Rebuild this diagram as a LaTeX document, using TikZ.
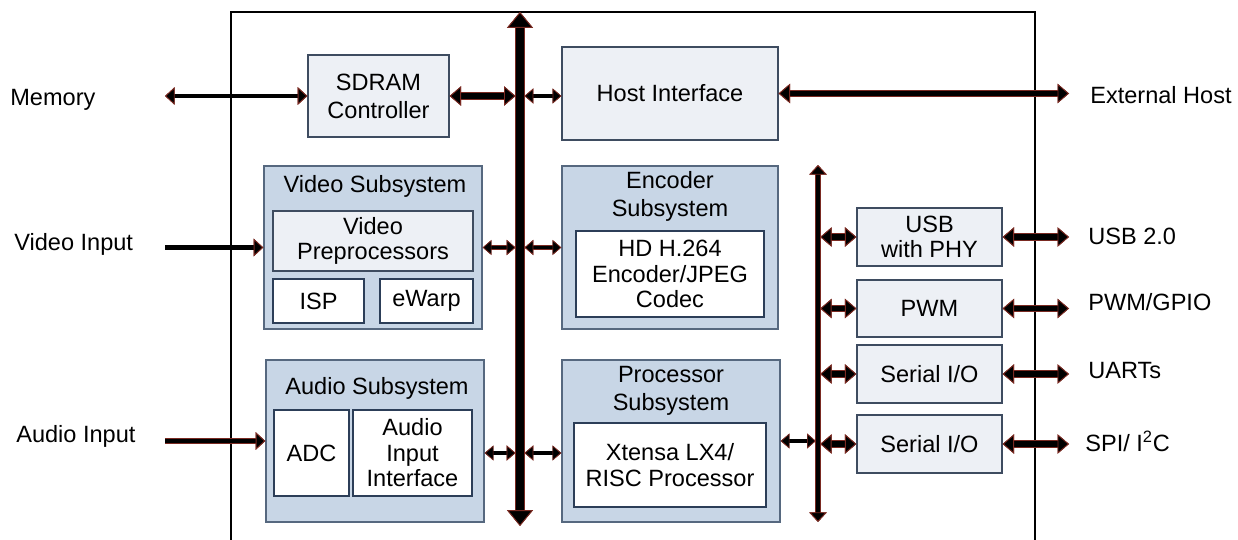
\documentclass[tikz,border=0pt]{standalone}
\usepackage{fontspec}
\setmainfont{Liberation Sans}
\usetikzlibrary{arrows.meta}
\usepackage{xcolor}

\definecolor{subfill}{HTML}{C8D6E6}
\definecolor{subdraw}{HTML}{56687F}
\definecolor{litefill}{HTML}{EDF0F5}
\definecolor{litedraw}{HTML}{3E4C60}
\definecolor{whitedraw}{HTML}{2C3E58}
\definecolor{arrowrim}{HTML}{7A2A22}

\tikzset{
  txt/.style={font=\fontsize{13.4}{14.5}\selectfont, align=center, inner sep=0pt},
  ttl/.style={font=\fontsize{13.4}{16}\selectfont, align=center, inner sep=0pt},
  subbox/.style={draw=subdraw, fill=subfill, line width=0.8pt},
  litebox/.style={txt, draw=litedraw, fill=litefill, line width=0.7pt},
  whitebox/.style={txt, draw=whitedraw, fill=white, line width=0.7pt},
  bustip/.tip={Triangle[width=14.7pt,length=9pt,fill=black,color=arrowrim,line width=0.5pt]},
  sidetip/.tip={Triangle[width=10pt,length=5.5pt,fill=black,color=arrowrim,line width=0.5pt]},
  fattip/.tip={Triangle[width=11pt,length=6.5pt,fill=black,color=arrowrim,line width=0.5pt]},
  smalltip/.tip={Triangle[width=8.5pt,length=5pt,fill=black,color=arrowrim,line width=0.4pt]},
  mainbus/.style={line width=5.1pt, preaction={draw=arrowrim, line width=6pt}, bustip-bustip},
  sidebus/.style={line width=2.8pt, preaction={draw=arrowrim, line width=3.6pt}, sidetip-sidetip},
  fatlink/.style={line width=3.2pt, preaction={draw=arrowrim, line width=4pt}, fattip-fattip},
  thinlink/.style={line width=1.8pt, preaction={draw=arrowrim, line width=2.5pt}, smalltip-smalltip},
  memlink/.style={line width=2pt, preaction={draw=arrowrim, line width=2.7pt}, sidetip-sidetip},
  inlink/.style={line width=2.6pt, preaction={draw=arrowrim, line width=3.3pt}, -sidetip},
}

\begin{document}
\begin{tikzpicture}[x=0.02cm, y=-0.02cm]
\useasboundingbox (0,0) rectangle (1238,540);

% Chip outline
\draw[line width=1.4pt] (231,540) |- (1035,12) -- (1035,540);

% Bus ends and outside ends
\coordinate (bustop) at (520,12);
\coordinate (busbot) at (520,526);
\coordinate (busL) at (515.5,0);
\coordinate (busR) at (524.5,0);
\coordinate (sbtop) at (818,165);
\coordinate (sbbot) at (818,522);
\coordinate (sbL) at (815.8,0);
\coordinate (sbR) at (820.2,0);
\coordinate (xin) at (165,0);
\coordinate (xout) at (1069,0);

% Top row
\node[litebox, minimum width=2.82cm, minimum height=1.64cm, font=\fontsize{13.4}{16}\selectfont] (sdram) at (378.5,96) {SDRAM\\Controller};
\node[litebox, minimum width=4.32cm, minimum height=1.86cm] (host) at (670,93.5) {Host Interface};

% Video Subsystem
\node[subbox, minimum width=4.36cm, minimum height=3.26cm] (vidsub) at (373,247.5) {};
\node[ttl] (vidttl) at (375,186) {Video Subsystem};
\node[litebox, minimum width=4.0cm, minimum height=1.2cm] (vidpre) at (373,241) {Video\\Preprocessors};
\node[whitebox, minimum width=1.82cm, minimum height=0.88cm] (isp) at (318.5,301) {ISP};
\node[whitebox, minimum width=1.86cm, minimum height=0.88cm] (ewarp) at (426.5,301) {eWarp};

% Encoder Subsystem
\node[subbox, minimum width=4.32cm, minimum height=3.26cm] (enc) at (670,247.5) {};
\node[ttl] (encttl) at (670,196) {Encoder\\Subsystem};
\node[whitebox, minimum width=3.76cm, minimum height=1.72cm] (h264) at (670,274) {HD H.264\\Encoder/JPEG\\Codec};

% Audio Subsystem
\node[subbox, minimum width=4.36cm, minimum height=3.24cm] (audsub) at (375,441) {};
\node[ttl] (audttl) at (377,388) {Audio Subsystem};
\node[whitebox, minimum width=1.5cm, minimum height=1.72cm] (adc) at (311.5,453) {ADC};
\node[whitebox, minimum width=2.38cm, minimum height=1.72cm] (audif) at (412.5,453) {Audio\\Input\\Interface};

% Processor Subsystem
\node[subbox, minimum width=4.36cm, minimum height=3.24cm] (proc) at (671,441) {};
\node[ttl] (procttl) at (671,391) {Processor\\Subsystem};
\node[whitebox, minimum width=3.84cm, minimum height=1.68cm] (xtensa) at (670,465) {Xtensa LX4/\\RISC Processor};

% Peripherals
\node[litebox, minimum width=2.9cm, minimum height=1.16cm] (usb) at (929.5,237) {USB\\with PHY};
\node[litebox, minimum width=2.9cm, minimum height=1.14cm] (pwm) at (929.5,308.5) {PWM};
\node[litebox, minimum width=2.9cm, minimum height=1.16cm] (sioa) at (929.5,374) {Serial I/O};
\node[litebox, minimum width=2.9cm, minimum height=1.16cm] (siob) at (929.5,444) {Serial I/O};

% Outside labels
\node[txt, anchor=west] (memlbl) at (10,100) {Memory};
\node[txt, anchor=west] (vidlbl) at (14,244) {Video Input};
\node[txt, anchor=west] (audlbl) at (16,436) {Audio Input};
\node[txt, anchor=west] (hostlbl) at (1090,95) {External Host};
\node[txt, anchor=west] (usblbl) at (1088,236) {USB 2.0};
\node[txt, anchor=west] (pwmlbl) at (1088,302) {PWM/GPIO};
\node[txt, anchor=west] (uartlbl) at (1088,371) {UARTs};
\node[txt, anchor=west] (spilbl) at (1085,441) {SPI/ I\textsuperscript{2}C};

% Buses
\draw[mainbus] (busbot) -- (bustop);
\draw[sidebus] (sbbot) -- (sbtop);

% Connections
\draw[memlink] (sdram.west -| xin) -- (sdram.west);
\draw[fatlink] (sdram.east) -- (sdram.east -| busL);
\draw[thinlink] (sdram.east -| busR) -- (sdram.east -| host.west);
\draw[fatlink] (host.east) -- (host.east -| xout);

\draw[inlink] (vidsub.west -| xin) -- (vidsub.west);
\draw[thinlink] (vidsub.east) -- (vidsub.east -| busL);
\draw[thinlink] (vidsub.east -| busR) -- (enc.west);

\draw[inlink] (audsub.west -| xin) -- (audsub.west);
\draw[thinlink] (adc -| audsub.east) -- (adc -| busL);
\draw[thinlink] (adc -| busR) -- (adc -| proc.west);
\draw[thinlink] (proc.east) -- (proc.east -| sbL);

\foreach \b in {usb,pwm,sioa,siob} {
    \draw[fatlink] (\b.west -| sbR) -- (\b.west);
    \draw[fatlink] (\b.east) -- (\b.east -| xout);
}

\end{tikzpicture}
\end{document}
